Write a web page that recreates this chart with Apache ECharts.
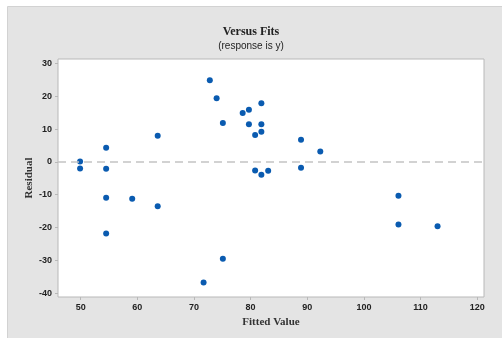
<!DOCTYPE html>
<html><head><meta charset="utf-8">
<script src="https://cdn.jsdelivr.net/npm/echarts@6/dist/echarts.min.js"></script>
<style>html,body{margin:0;padding:0;background:#fff}#c{width:502px;height:338px}</style>
</head><body><div id="c"></div>
<script>
var fittedValues = [49.9, 49.9, 54.5, 54.5, 54.5, 54.5, 59.1, 63.6, 63.6, 72.8, 74.0, 75.1, 75.1, 71.7, 78.6, 79.7, 79.7, 80.8, 80.8, 81.9, 81.9, 81.9, 81.9, 83.1, 88.9, 88.9, 92.3, 106.1, 106.1, 113.0];
var residuals = [0.1, -2.0, 4.3, -2.1, -10.9, -21.8, -11.2, 8.0, -13.5, 24.9, 19.4, 11.9, -29.5, -36.8, 14.9, 15.9, 11.5, 8.2, -2.6, 17.9, 11.5, 9.2, -3.9, -2.7, 6.8, -1.8, 3.2, -10.3, -19.1, -19.6];
var xTicks = [50, 60, 70, 80, 90, 100, 110, 120];
var yTicks = [-40, -30, -20, -10, 0, 10, 20, 30];
var titleText = 'Versus Fits';
var subtitleText = '(response is y)';
var xName = 'Fitted Value';
var yName = 'Residual';

var pts = fittedValues.map(function (x, i) { return [x, residuals[i]]; });
var chart = echarts.init(document.getElementById('c'));
var tickLabel = { fontFamily: 'Liberation Sans, Arial', fontWeight: 'bold', fontSize: 9, color: '#222' };
chart.setOption({
  animation: false,
  graphic: [{
    type: 'rect', z: -10, silent: true,
    shape: { x: 7.5, y: 6.5, width: 500, height: 340 },
    style: { fill: '#e4e4e4', stroke: '#d2d2d2', lineWidth: 1 }
  }],
  title: {
    text: titleText, subtext: subtitleText, left: 'center', top: 21, itemGap: 3,
    textStyle: { fontFamily: 'Liberation Serif', fontWeight: 'bold', fontSize: 12, color: '#222' },
    subtextStyle: { fontFamily: 'Liberation Sans, Arial', fontSize: 10, color: '#222' }
  },
  grid: { left: 58, top: 59, right: 18, bottom: 41, show: true, backgroundColor: '#fff', borderColor: '#b8b8b8', borderWidth: 1 },
  xAxis: {
    type: 'value', min: 46, max: 121.2,
    name: xName, nameLocation: 'middle', nameGap: 20, nameMoveOverlap: false,
    nameTextStyle: { fontFamily: 'Liberation Serif', fontWeight: 'bold', fontSize: 11, color: '#333' },
    axisLine: { show: false, onZero: false }, splitLine: { show: false },
    axisTick: { show: true, length: 3, customValues: xTicks, lineStyle: { color: '#b8b8b8' } },
    axisLabel: Object.assign({ customValues: xTicks, margin: 6 }, tickLabel)
  },
  yAxis: {
    type: 'value', min: -41.2, max: 31.4,
    name: yName, nameLocation: 'middle', nameGap: 23, nameRotate: 90, nameMoveOverlap: false,
    nameTextStyle: { fontFamily: 'Liberation Serif', fontWeight: 'bold', fontSize: 11, color: '#333' },
    axisLine: { show: false, onZero: false }, splitLine: { show: false },
    axisTick: { show: true, length: 3, customValues: yTicks, lineStyle: { color: '#b8b8b8' } },
    axisLabel: Object.assign({ customValues: yTicks, margin: 6 }, tickLabel)
  },
  series: [{
    type: 'scatter', data: pts, symbolSize: 6,
    itemStyle: { color: '#0a5bb0', opacity: 1 },
    markLine: {
      silent: true, symbol: 'none', label: { show: false },
      lineStyle: { color: '#c4c4c4', type: [8, 5], width: 1.5 },
      data: [{ yAxis: 0 }]
    }
  }]
});
</script></body></html>
